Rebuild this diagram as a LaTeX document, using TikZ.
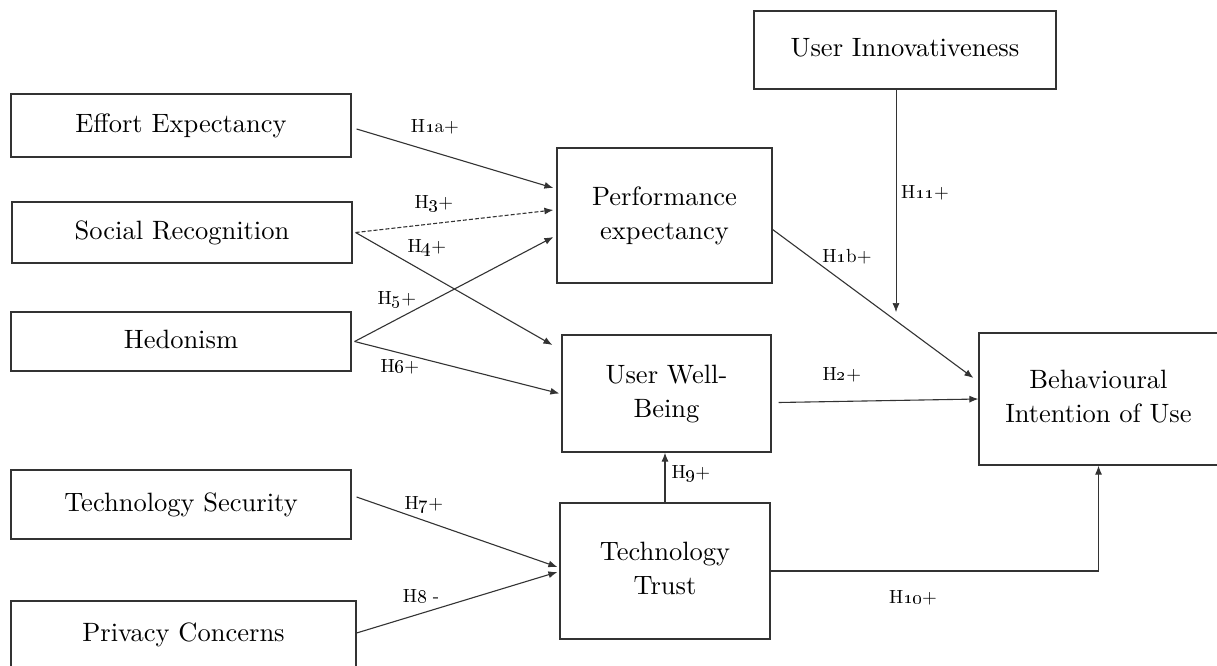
\documentclass[tikz,border=0pt]{standalone}
\usepackage{graphicx}
\usetikzlibrary{arrows.meta,calc}
\newcommand\bxt[1]{\scalebox{2.65}{\renewcommand\arraystretch{1.06}\begin{tabular}{@{}c@{}}#1\end{tabular}}}
\newcommand\lbt[1]{\scalebox{1.9}{#1}}
\begin{document}
\begin{tikzpicture}[x=1pt,y=-1pt,
  box/.style={draw=black!80, line width=1.2pt, inner sep=0pt, align=center},
  conn/.style={draw=black!80, line width=1.1pt, -{Latex[length=9pt,width=7pt]}},
  lab/.style={inner sep=1pt}]
\useasboundingbox[fill=white] (0,0) rectangle (1217,666);
% boxes
\node[box, minimum width=302pt, minimum height=78pt] (ui) at (905,50) {\bxt{User Innovativeness}};
\node[box, minimum width=340pt, minimum height=63pt] (ee) at (181,125.5) {\bxt{Effort Expectancy}};
\node[box, minimum width=340pt, minimum height=61pt] (sr) at (182,232.5) {\bxt{Social Recognition}};
\node[box, minimum width=340pt, minimum height=59pt] (hed) at (181,341.5) {\bxt{Hedonism}};
\node[box, minimum width=215pt, minimum height=135pt] (perf) at (664.5,215.5) {\bxt{Performance\\expectancy}};
\node[box, minimum width=209pt, minimum height=117pt] (uwb) at (666.5,393.5) {\bxt{User Well-\\Being}};
\node[box, minimum width=239pt, minimum height=132pt] (bi) at (1098.5,399) {\bxt{Behavioural\\Intention of Use}};
\node[box, minimum width=340pt, minimum height=69pt] (ts) at (181,504.5) {\bxt{Technology Security}};
\node[box, minimum width=210pt, minimum height=136pt] (tt) at (665,571) {\bxt{Technology\\Trust}};
\node[box, minimum width=345pt, minimum height=67pt] (pc) at (183.5,634.5) {\bxt{Privacy Concerns}};
% connectors
\draw[conn] ($(ee.east)+(5,3.5)$) -- ($(perf.west)+(-3,-27.5)$);
\draw[conn, dashed, dash pattern=on 4pt off 2pt] ($(sr.east)+(3,0)$) -- ($(perf.west)+(-3,-5.5)$);
\draw[conn] ($(sr.east)+(3,0)$) -- ($(uwb.west)+(-9,-48.5)$);
\draw[conn] ($(hed.east)+(3,0)$) -- ($(perf.west)+(-3,21.5)$);
\draw[conn] ($(hed.east)+(3,0)$) -- ($(uwb.west)+(-2,0)$);
\draw[conn] ($(perf.east)+(0,14)$) -- ($(bi.west)+(-5,-21)$);
\coordinate (uitip) at (896,312);
\draw[conn, line width=0.6pt] ($(ui.south)+(-9,0)$) -- (uitip);
\draw[conn] ($(uwb.east)+(7,9)$) -- (bi.west);
\draw[conn] (tt.north) -- (tt.north |- uwb.south);
\draw[conn] ($(ts.east)+(5,-7.5)$) -- ($(tt.west)+(-2,-4)$);
\draw[conn] ($(pc.east)+(0,-1.5)$) -- ($(tt.west)+(-2,1)$);
\draw[conn] (tt.east) -| (bi.south);
% labels
\node[lab] (l1a) at (435,127) {\lbt{H\oldstylenums{1}a+}};
\node[lab] (l3) at (434,204) {\lbt{H\oldstylenums{3}+}};
\node[lab] (l4) at (427,248) {\lbt{H\oldstylenums{4}+}};
\node[lab] (l5) at (397,300) {\lbt{H\oldstylenums{5}+}};
\node[lab] (l6) at (400,367) {\lbt{H\oldstylenums{6}+}};
\node[lab] (l1b) at (847,257) {\lbt{H\oldstylenums{1}b+}};
\node[lab] (l11) at (925,193) {\lbt{H\oldstylenums{11}+}};
\node[lab] (l2) at (842,375) {\lbt{H\oldstylenums{2}+}};
\node[lab] (l9) at (691,474) {\lbt{H\oldstylenums{9}+}};
\node[lab] (l7) at (424,505) {\lbt{H\oldstylenums{7}+}};
\node[lab] (l8) at (421,596) {\lbt{H\oldstylenums{8} -}};
\node[lab] (l10) at (913,598) {\lbt{H\oldstylenums{10}+}};
\end{tikzpicture}
\end{document}
